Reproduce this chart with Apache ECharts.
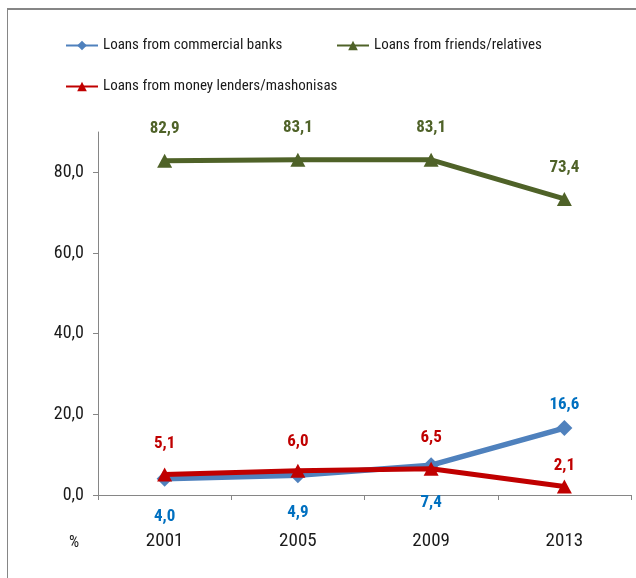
<!DOCTYPE html>
<html>
<head>
<meta charset="utf-8">
<script src="https://cdn.jsdelivr.net/npm/echarts@6/dist/echarts.min.js"></script>
<style>
html,body{margin:0;padding:0;background:#fff;}
#chart{width:636px;height:578px;}
</style>
</head>
<body>
<div id="chart"></div>
<script>
const categories = ['2001', '2005', '2009', '2013'];
const seriesNames = ['Loans from commercial banks', 'Loans from friends/relatives', 'Loans from money lenders/mashonisas'];
const banks = [4.0, 4.9, 7.4, 16.6];
const friends = [82.9, 83.1, 83.1, 73.4];
const lenders = [5.1, 6.0, 6.5, 2.1];
const yTicks = [0, 20, 40, 60, 80];

// label vertical offsets (styling, px)
const banksLabelDy = [38, 38, 38, -23];
const friendsLabelDy = [-32, -32, -32, -31];
const lendersLabelDy = [-31, -29, -31, -21];

const FONT = "'Roboto Condensed', 'Roboto', sans-serif";
const fmt = v => Number(v).toFixed(1).replace('.', ',');

function buildData(values, dys, color) {
  return values.map((v, i) => ({
    value: v,
    label: {
      show: true,
      position: 'inside',
      offset: [0, dys[i]],
      color: color,
      fontFamily: FONT,
      fontWeight: 'bold',
      fontSize: 17,
      formatter: p => fmt(p.value)
    }
  }));
}

const chart = echarts.init(document.getElementById('chart'), null, {renderer: 'canvas'});
const legendBase = {
  itemWidth: 32,
  itemHeight: 12,
  textStyle: {fontFamily: FONT, fontSize: 15, color: '#1a1a1a'},
  lineStyle: {width: 2},
  selectedMode: false,
  padding: 0
};
chart.setOption({
  animation: false,
  backgroundColor: '#fff',
  legend: [
    Object.assign({}, legendBase, {data: [seriesNames[0]], left: 65, top: 38}),
    Object.assign({}, legendBase, {data: [seriesNames[1]], left: 336, top: 38}),
    Object.assign({}, legendBase, {data: [seriesNames[2]], left: 65, top: 79})
  ],
  grid: {left: 98, right: 5, top: 132, bottom: 83, containLabel: false},
  xAxis: {
    type: 'category',
    data: categories,
    boundaryGap: true,
    axisLine: {show: true, lineStyle: {color: '#868686', width: 1}},
    axisTick: {show: true, length: 5, lineStyle: {color: '#868686'}},
    axisLabel: {fontFamily: FONT, fontSize: 19, color: '#1a1a1a', margin: 37},
    splitLine: {show: false}
  },
  yAxis: {
    type: 'value',
    min: 0,
    max: 90,
    interval: 20,
    axisLine: {show: true, lineStyle: {color: '#868686', width: 1}},
    axisTick: {show: true, length: 5, lineStyle: {color: '#868686'}, customValues: yTicks},
    axisLabel: {fontFamily: FONT, fontSize: 18, color: '#1a1a1a', margin: 14, customValues: yTicks, formatter: v => fmt(v)},
    splitLine: {show: false}
  },
  graphic: [
    {type: 'line', shape: {x1: 7, y1: 9, x2: 640, y2: 9}, style: {stroke: '#868686', lineWidth: 2}},
    {type: 'line', shape: {x1: 7.5, y1: 9, x2: 7.5, y2: 600}, style: {stroke: '#868686', lineWidth: 1}},
    {type: 'text', left: 69, top: 535, style: {text: '%', fontFamily: FONT, fontSize: 16, fill: '#1a1a1a'}}
  ],
  series: [
    {
      name: seriesNames[0], type: 'line',
      data: buildData(banks, banksLabelDy, '#0070C0'),
      symbol: 'diamond', symbolSize: 16,
      lineStyle: {color: '#4F81BD', width: 5.5},
      itemStyle: {color: '#4F81BD'},
      z: 2
    },
    {
      name: seriesNames[1], type: 'line',
      data: buildData(friends, friendsLabelDy, '#4F6228'),
      symbol: 'triangle', symbolSize: [15, 14],
      lineStyle: {color: '#4F6228', width: 5},
      itemStyle: {color: '#4F6228'},
      z: 3
    },
    {
      name: seriesNames[2], type: 'line',
      data: buildData(lenders, lendersLabelDy, '#C00000'),
      symbol: 'triangle', symbolSize: [15, 14],
      lineStyle: {color: '#C00000', width: 5},
      itemStyle: {color: '#C00000'},
      z: 4
    }
  ]
});
</script>
</body>
</html>
